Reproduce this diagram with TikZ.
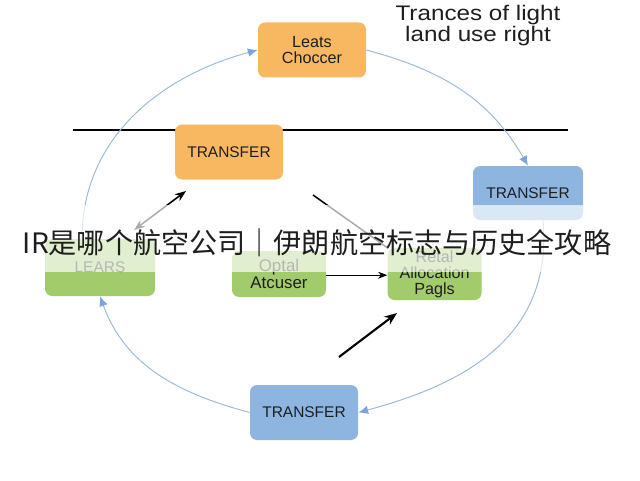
\documentclass[tikz,border=0pt]{standalone}
\usepackage{fontspec}
\setmainfont{Liberation Sans}
\newfontfamily\cjkfont{Noto Sans CJK SC}
\usetikzlibrary{positioning,arrows.meta}
\definecolor{boxorange}{HTML}{F8B862}
\definecolor{boxblue}{HTML}{8EB5E0}
\definecolor{boxgreen}{HTML}{A2CB6C}
\definecolor{ringblue}{HTML}{9DBAD8}
\definecolor{tipblue}{HTML}{7BA5DA}
\definecolor{ink}{HTML}{1E1E1E}

\begin{document}
\begin{tikzpicture}[>=Stealth,
    box/.style={rounded corners=5pt, text=ink, align=center, inner sep=0pt},
    orangebox/.style={box, fill=boxorange, minimum width=2.7cm, minimum height=1.375cm},
    bluebox/.style={box, fill=boxblue, minimum width=2.7cm, minimum height=1.375cm},
    greenbox/.style={box, fill=boxgreen, minimum width=2.35cm, minimum height=1.2cm},
    ring/.style={ringblue, line width=0.7pt, -{Latex[length=7pt,width=6pt,color=tipblue]}}]
    \useasboundingbox (0,0) rectangle (16,12);
    % Title
    \node[align=center, text=ink, font=\fontsize{15}{13.2}\selectfont] (title) at (11.95,11.35)
        {\scalebox{1.15}[1]{Trances of light}\\\scalebox{1.15}[1]{land use right}};
    % Rule
    \coordinate (ruleL) at (1.825,8.75);
    \coordinate (ruleR) at (14.2,8.75);
    \draw[line width=1pt] (ruleL) -- (ruleR);
    % Top and ring boxes
    \node[orangebox, font=\fontsize{11.5}{12}\selectfont] (leats) at (7.8,10.75) {Leats\\Choccer};
    \node[orangebox, font=\fontsize{11}{12}\selectfont] (transO) at (5.725,8.2) {TRANSFER};
    \node[bluebox, minimum width=2.75cm, minimum height=1.35cm, font=\fontsize{11}{12}\selectfont] (transR) at (13.2,7.175) {TRANSFER};
    \node[bluebox, font=\fontsize{11}{12}\selectfont] (transB) at (7.6,1.6875) {TRANSFER};
    % Green boxes
    \node[greenbox, minimum width=2.75cm, minimum height=1.425cm, font=\fontsize{11}{12}\selectfont] (lears) at (2.5,5.3125) {LEARS};
    \node[greenbox, minimum height=1.15cm, font=\fontsize{12}{11.5}\selectfont] (optal) at (6.975,5.15) {Optal\\Atcuser};
    \node[greenbox, minimum height=1.3cm, font=\fontsize{11.5}{11.3}\selectfont, right=1.525cm of optal] (retal) {Retal\\Allocation\\Pagls};
    % Ring
    \draw[ring] ([xshift=-0.45cm]lears.north) to[out=90,in=195] (leats.west);
    \draw[ring] (leats.east) to[out=-15,in=120] (transR.north);
    \draw[ring] ([xshift=0.375cm]transR.south) to[out=-85,in=15,looseness=1.1] (transB.east);
    \draw[ring] (transB.west) to[out=165,in=-70] (lears.south);
    % Inner arrows
    \coordinate (dblT) at (4.65,7.225);
    \coordinate (dblB) at (3.35,6.25);
    \draw[<->, line width=1.1pt] (dblB) -- (dblT);
    \coordinate (slashS) at (7.825,7.125);
    \draw[line width=1.1pt] (slashS) -- (retal.north west);
    \draw[->, line width=0.8pt] ([yshift=-0.03cm]optal.east) -- ([yshift=-0.03cm]optal.east -| retal.west);
    \coordinate (pushS) at (8.475,3.075);
    \coordinate (pushE) at (9.925,4.175);
    \draw[-{Stealth[length=9pt,width=7pt]}, line width=1.5pt] (pushS) -- (pushE);
    % Banner
    \fill[white, opacity=0.68] (0,5.2) rectangle (16,6.875);
    \node[text=ink, font=\cjkfont\fontsize{20}{20}\selectfont] (banner) at (7.925,5.925)
        {IR是哪个航空公司｜伊朗航空标志与历史全攻略};
\end{tikzpicture}
\end{document}
